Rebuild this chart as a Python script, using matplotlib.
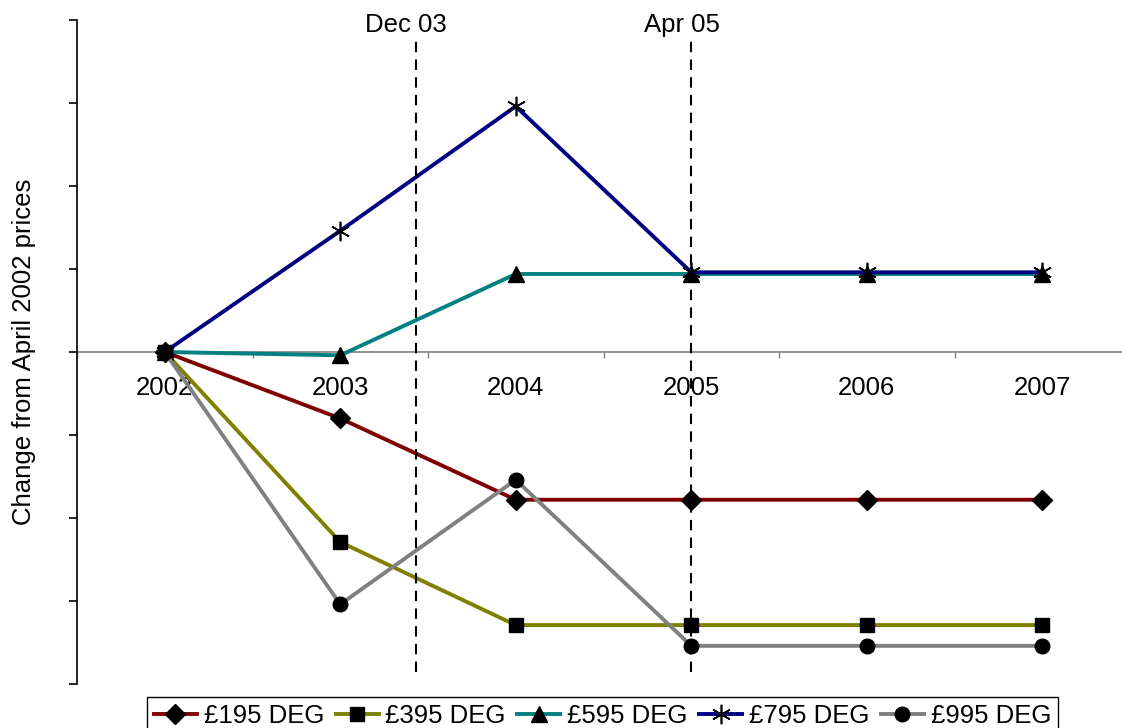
import matplotlib
matplotlib.use("Agg")
import matplotlib.pyplot as plt
from matplotlib.ticker import FixedLocator, NullFormatter

plt.rcParams['font.family'] = ['Liberation Sans', 'DejaVu Sans']

years = ['2002', '2003', '2004', '2005', '2006', '2007']

deg195 = [0, -0.80, -1.78, -1.78, -1.78, -1.78]
deg395 = [0, -2.29, -3.29, -3.29, -3.29, -3.29]
deg595 = [0, -0.04, 0.94, 0.94, 0.94, 0.94]
deg795 = [0, 1.46, 2.96, 0.96, 0.96, 0.96]
deg995 = [0, -3.04, -1.54, -3.54, -3.54, -3.54]

series_names = ['£195 DEG', '£395 DEG', '£595 DEG', '£795 DEG', '£995 DEG']

# policy changes marked with dashed verticals
event_labels = ['Dec 03', 'Apr 05']
event_pos = [1.43, 3.0]

styles = [
    ('#800000', 'D', 10),
    ('#808000', 's', 10),
    ('#008080', '^', 11),
    ('#000080', (6, 2, 0), 14),
    ('#808080', 'o', 10.5),
]

fig = plt.figure(figsize=(11.22, 7.28), dpi=100)
ax = fig.add_axes([77 / 1122, 1 - 684 / 728, 1053 / 1122, 664 / 728])

x = range(len(years))
for vals, name, (col, mk, ms) in zip([deg195, deg395, deg595, deg795, deg995],
                                      series_names, styles):
    if mk == (6, 2, 0):
        ax.plot(x, vals, color=col, lw=2.8, marker=mk, ms=ms, mec='black',
                mfc='none', mew=1.2, label=name, clip_on=False)
    else:
        ax.plot(x, vals, color=col, lw=2.8, marker=mk, ms=ms, mec='black',
                mfc='black', label=name, clip_on=False)

for pos, lab in zip(event_pos, event_labels):
    ax.plot([pos, pos], [-3.86, 3.76], color='black', lw=1.5,
            ls=(0, (5, 3.5)))
    ax.annotate(lab, xy=(pos, 3.94), xytext=(-7, 0), textcoords='offset points',
                ha='center', va='center', fontsize=18.5)

ax.set_xlim(-0.5, 5.5)
ax.set_ylim(-4, 4)

for s in ['top', 'right']:
    ax.spines[s].set_visible(False)
ax.spines['bottom'].set_position(('data', 0))
ax.spines['bottom'].set_color('#808080')
ax.spines['bottom'].set_linewidth(1.2)
ax.spines['bottom'].set_zorder(0.5)
ax.spines['left'].set_linewidth(1.2)

ax.set_xticks(list(x))
ax.set_xticklabels(years, fontsize=18.5)
ax.xaxis.set_minor_locator(FixedLocator([i + 0.5 for i in range(-1, 6)]))
ax.tick_params(axis='x', which='major', length=0, pad=17)
ax.tick_params(axis='x', which='minor', length=4, direction='out',
               color='#808080', width=1)

ax.yaxis.set_major_locator(FixedLocator(range(-4, 5)))
ax.yaxis.set_major_formatter(NullFormatter())
ax.tick_params(axis='y', length=6, width=1.2, direction='out')

ax.set_ylabel('Change from April 2002 prices', fontsize=18.5)
ax.yaxis.set_label_coords(-0.039, 0.5)

leg = fig.legend(loc='upper center', bbox_to_anchor=(0.537, 1 - 697 / 728),
                 ncol=5, fontsize=18.5, frameon=True, fancybox=False,
                 framealpha=1, edgecolor='black', borderpad=0.27,
                 handlelength=1.67, handletextpad=0.27, columnspacing=0.45,
                 borderaxespad=0)
leg.get_frame().set_linewidth(1.0)

fig.savefig('out.png', dpi=100)
